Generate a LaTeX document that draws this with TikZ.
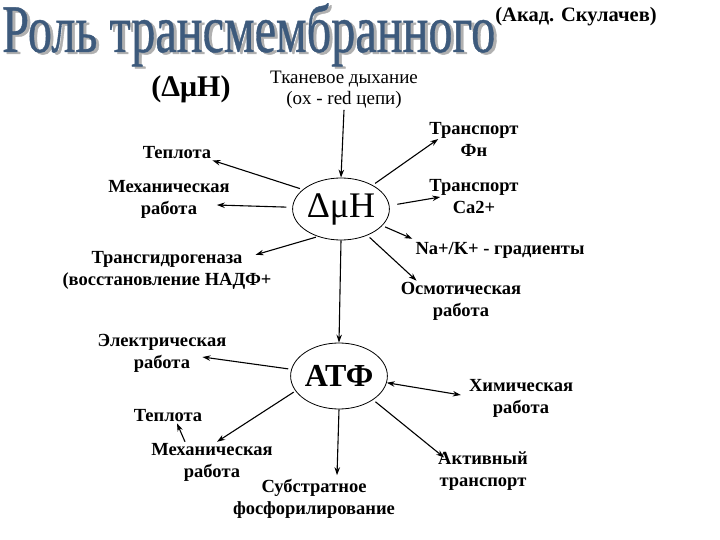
\documentclass[tikz,border=0pt]{standalone}
\usepackage{fontspec}
\setmainfont{Liberation Serif}
\newfontfamily\titlefam{Liberation Serif}[FakeBold=0.7]
\usetikzlibrary{shapes.geometric,arrows.meta,calc}
\definecolor{titleblue}{HTML}{3D5A7C}
\definecolor{shadowgray}{HTML}{B0B0B0}
\begin{document}
\begin{tikzpicture}[x=1pt,y=-1pt,
  lbl/.style={font=\fontsize{18.5}{22}\selectfont\bfseries, align=center, inner sep=1pt},
  reglbl/.style={font=\fontsize{19}{21}\selectfont, align=center, inner sep=1pt},
  arr/.style={-{Stealth[length=8pt,width=5.5pt]}, line width=1.1pt},
  oval/.style={draw, ellipse, line width=0.8pt, inner sep=0pt},
  titlefont/.style={font=\titlefam\fontsize{68}{68}\selectfont, inner sep=0pt}]
\useasboundingbox (0,0) rectangle (720,540);
% title
\node[titlefont, anchor=base west, text=shadowgray] (titlesh) at (5,54) {\scalebox{0.71}[1]{Роль трансмембранного}};
\node[titlefont, anchor=base west, text=titleblue] (title) at (2,52) {\scalebox{0.71}[1]{Роль трансмембранного}};
\node[font=\fontsize{20.5}{24}\selectfont\bfseries, inner sep=0pt] (akad) at (576,17) {(Акад. Скулачев)};
\node[font=\fontsize{30}{32}\selectfont\bfseries, inner sep=0pt] (dmhtitle) at (191,89) {(ΔμH)};
\node[reglbl] (tkan) at (344,90) {Тканевое дыхание\\(ox - red цепи)};
% central ovals
\node[oval, minimum width=85pt, minimum height=62pt, font=\fontsize{36}{36}\selectfont] (dmh) at (341,209) {ΔμH};
\node[oval, minimum width=84pt, minimum height=66pt, font=\fontsize{32}{34}\selectfont\bfseries] (atp) at (339,376) {АТФ};
% labels
\node[lbl] (tep1) at (177,153) {Теплота};
\node[lbl] (meh1) at (169,199) {Механическая\\работа};
\node[lbl] (trg) at (167,270) {Трансгидрогеназа\\(восстановление НАДФ+};
\node[lbl] (trf) at (474,139) {Транспорт\\Фн};
\node[lbl] (trca) at (474,197) {Транспорт\\Ca2+};
\node[lbl] (nak) at (500,250) {Na+/K+ - градиенты};
\node[lbl] (osm) at (461,301) {Осмотическая\\работа};
\node[lbl] (el) at (162,353) {Электрическая\\работа};
\node[lbl] (tep2) at (168,416) {Теплота};
\node[lbl] (meh2) at (212,462) {Механическая\\работа};
\node[lbl] (sub) at (314,499) {Субстратное\\фосфорилирование};
\node[lbl] (him) at (521,398) {Химическая\\работа};
\node[lbl] (akt) at (483,471) {Активный\\транспорт};
% connectors
\draw[arr] (tkan.south) -- (dmh.north);
\draw[arr, shorten <=3pt] (dmh.153) -- (tep1.south east);
\draw[arr, shorten <=6pt] (dmh.178) -- ($(meh1.east)+(-14,6)$);
\draw[arr, shorten <=2pt] (dmh.230) -- ($(trg.north east)+(-17,5)$);
\draw[arr] (dmh.south) -- (atp.north);
\draw[arr, shorten <=3pt] (dmh.37) -- ($(trf.west)+(10,0)$);
\draw[arr, shorten <=8pt] (dmh.4) -- ($(trca.west)+(12,0)$);
\draw[arr, shorten <=3pt] (dmh.-22) -- ($(nak.north west)+(-2,-2)$);
\draw[arr, shorten <=3pt] (dmh.-45) -- ($(osm.north west)+(17,0)$);
\draw[arr, shorten <=3pt] (atp.172) -- ($(el.east)+(-25,4)$);
\draw[arr, shorten <=2pt] (atp.199) -- ($(meh2.north)+(5,0)$);
\draw[arr] ($(meh2.north)+(-27,0)$) -- ($(tep2.south)+(9,0)$);
\draw[arr] (atp.south) -- ($(sub.north)+(23,-3)$);
\draw[arr, {Stealth[length=8pt,width=5.5pt]}-{Stealth[length=8pt,width=5.5pt]}] (atp.-8) -- ($(him.west)+(-7,-3)$);
\draw[arr, shorten <=3pt] (atp.-35) -- ($(akt.north west)+(7,7)$);
\end{tikzpicture}
\end{document}
